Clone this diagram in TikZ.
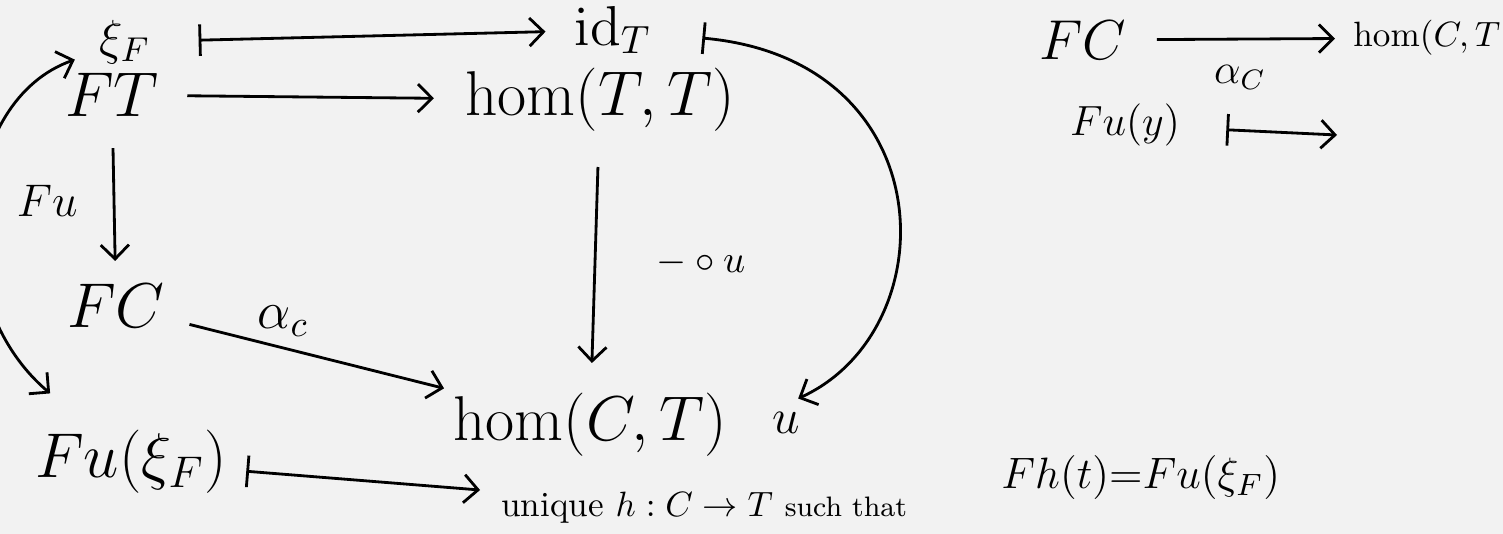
\RequirePackage{fix-cm}
\documentclass[tikz,border=0pt]{standalone}
\usepackage{amsmath, amssymb}
\usepackage{tikz}
\usetikzlibrary{arrows.meta, positioning}
\definecolor{paper}{HTML}{F2F2F2}

\begin{document}
\begin{tikzpicture}[x=0.01cm, y=-0.01cm, line width=0.8pt, >={Straight Barb[length=4pt,width=8pt]},
		obj/.style={inner sep=0pt, font=\fontsize{18}{20}\selectfont},
		lbl/.style={inner sep=0pt, font=\fontsize{13}{15}\selectfont},
		mapsto/.style={{Bar[width=9pt]}->}]
				\fill[paper] (0,0) rectangle (1503,534);
				\useasboundingbox (0,0) rectangle (1503,534);

				% the square
				\node [lbl, font=\fontsize{14}{16}\selectfont] (xi) at (125,42) {$\xi_F$};
				\node [obj] (FT) at (112,95) {$FT$};
				\node [lbl, font=\fontsize{16}{18}\selectfont] (idT) at (613,30) {$\mathrm{id}_T$};
				\node [obj] (homTT) at (600,100) {$\hom(T,T)$};
				\node [obj] (FC) at (116,306) {$FC$};
				\node [obj] (homCT) at (590,425) {$\hom(C,T)$};
				\node [lbl, font=\fontsize{14}{16}\selectfont] (u) at (786,423) {$u$};
				\node [obj] (Fuxi) at (131,462) {$Fu(\xi_F)$};
				\node [anchor=west, inner sep=0pt] (unique) at (500,508) {{\fontsize{10}{12}\selectfont unique $h : C \to T$} {\fontsize{8}{10}\selectfont such that}};
				\node [obj, anchor=west, font=\fontsize{12.5}{15}\selectfont] (eq) at (1000,478) {$Fh(t){=}Fu(\xi_F)$};

				\draw [mapsto, shorten <=4.7mm, shorten >=2.8mm] (xi) -- (idT);
				\draw [->, shorten <=2.7mm, shorten >=3mm] (FT) -- (homTT);
				\draw [->, shorten <=3mm, shorten >=2.2mm] (FT) -- node [lbl, midway, left=3.5mm] {$Fu$} (FC);
				\draw [->, shorten <=3.4mm, shorten >=2.9mm] (homTT) -- node [lbl, midway, right=6mm, font=\fontsize{11}{13}\selectfont] {$-\circ u$} (homCT);
				\draw [->, shorten <=2.4mm, shorten >=1.5mm] (FC) -- node [lbl, pos=0.4, above=1mm, font=\fontsize{15}{17}\selectfont] {$\alpha_c$} (homCT);
				\draw [mapsto, shorten <=5mm, shorten >=3mm] (idT) .. controls (945,60) and (948,330) .. (u.north west);
				\draw [<->, shorten <=2.5mm, shorten >=5.5mm] (xi) .. controls (-40,100) and (-60,300) .. (Fuxi);
				\draw [mapsto, shorten <=1.8mm, shorten >=2mm] (Fuxi) -- (unique);

				% the map on the right
				\node [obj, font=\fontsize{16}{18}\selectfont] (FC2) at (1083,40) {$FC$};
				\node [obj, anchor=west, font=\fontsize{10}{12}\selectfont] (homCT2) at (1352,38) {$\hom(C,T$};
				\node [lbl, font=\fontsize{12}{14}\selectfont] (Fuy) at (1125,125) {$Fu(y)$};
				\coordinate (Fuyto) at (1337,135);

				\draw [->, shorten <=2.9mm, shorten >=1.7mm] (FC2) -- node [lbl, midway, below=2.5mm, font=\fontsize{12}{14}\selectfont] {$\alpha_C$} (homCT2);
				\draw [mapsto, shorten <=4.5mm] (Fuy) -- (Fuyto);
			\end{tikzpicture}
\end{document}
